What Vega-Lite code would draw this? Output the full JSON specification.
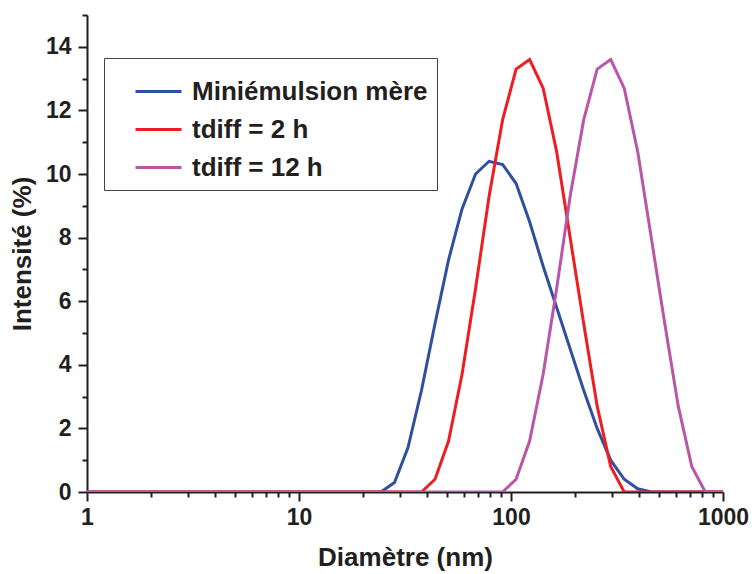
{
  "$schema": "https://vega.github.io/schema/vega-lite/v6.json",
  "width": 636,
  "height": 477,
  "autosize": {"type": "none"},
  "padding": {"left": 87, "top": 15, "right": 31, "bottom": 82},
  "background": "white",
  "config": {
    "view": {"stroke": null},
    "font": "Liberation Sans",
    "axis": {
      "grid": false,
      "domainColor": "#231F20",
      "domainWidth": 2,
      "tickColor": "#231F20",
      "tickWidth": 2,
      "labelFont": "Liberation Sans",
      "labelFontSize": 23,
      "labelFontWeight": "bold",
      "labelColor": "#231F20",
      "titleFont": "Liberation Sans",
      "titleFontSize": 26,
      "titleFontWeight": "bold",
      "titleColor": "#231F20",
      "labelOverlap": false,
      "labelFlush": false
    }
  },
  "data": {
    "values": [
      {"d": 0.9649, "v": 0, "s": "Miniémulsion mère"},
      {"d": 1.117, "v": 0, "s": "Miniémulsion mère"},
      {"d": 1.294, "v": 0, "s": "Miniémulsion mère"},
      {"d": 1.499, "v": 0, "s": "Miniémulsion mère"},
      {"d": 1.736, "v": 0, "s": "Miniémulsion mère"},
      {"d": 2.01, "v": 0, "s": "Miniémulsion mère"},
      {"d": 2.328, "v": 0, "s": "Miniémulsion mère"},
      {"d": 2.696, "v": 0, "s": "Miniémulsion mère"},
      {"d": 3.122, "v": 0, "s": "Miniémulsion mère"},
      {"d": 3.615, "v": 0, "s": "Miniémulsion mère"},
      {"d": 4.187, "v": 0, "s": "Miniémulsion mère"},
      {"d": 4.849, "v": 0, "s": "Miniémulsion mère"},
      {"d": 5.615, "v": 0, "s": "Miniémulsion mère"},
      {"d": 6.503, "v": 0, "s": "Miniémulsion mère"},
      {"d": 7.531, "v": 0, "s": "Miniémulsion mère"},
      {"d": 8.721, "v": 0, "s": "Miniémulsion mère"},
      {"d": 10.1, "v": 0, "s": "Miniémulsion mère"},
      {"d": 11.7, "v": 0, "s": "Miniémulsion mère"},
      {"d": 13.54, "v": 0, "s": "Miniémulsion mère"},
      {"d": 15.69, "v": 0, "s": "Miniémulsion mère"},
      {"d": 18.17, "v": 0, "s": "Miniémulsion mère"},
      {"d": 21.04, "v": 0, "s": "Miniémulsion mère"},
      {"d": 24.36, "v": 0, "s": "Miniémulsion mère"},
      {"d": 28.21, "v": 0.3, "s": "Miniémulsion mère"},
      {"d": 32.67, "v": 1.4, "s": "Miniémulsion mère"},
      {"d": 37.84, "v": 3.2, "s": "Miniémulsion mère"},
      {"d": 43.82, "v": 5.3, "s": "Miniémulsion mère"},
      {"d": 50.75, "v": 7.3, "s": "Miniémulsion mère"},
      {"d": 58.77, "v": 8.9, "s": "Miniémulsion mère"},
      {"d": 68.06, "v": 10.0, "s": "Miniémulsion mère"},
      {"d": 78.82, "v": 10.4, "s": "Miniémulsion mère"},
      {"d": 91.28, "v": 10.3, "s": "Miniémulsion mère"},
      {"d": 105.7, "v": 9.7, "s": "Miniémulsion mère"},
      {"d": 122.4, "v": 8.5, "s": "Miniémulsion mère"},
      {"d": 141.8, "v": 7.1, "s": "Miniémulsion mère"},
      {"d": 164.2, "v": 5.8, "s": "Miniémulsion mère"},
      {"d": 190.1, "v": 4.5, "s": "Miniémulsion mère"},
      {"d": 220.2, "v": 3.2, "s": "Miniémulsion mère"},
      {"d": 255, "v": 2.0, "s": "Miniémulsion mère"},
      {"d": 295.3, "v": 1.0, "s": "Miniémulsion mère"},
      {"d": 342, "v": 0.4, "s": "Miniémulsion mère"},
      {"d": 396.1, "v": 0.1, "s": "Miniémulsion mère"},
      {"d": 458.7, "v": 0, "s": "Miniémulsion mère"},
      {"d": 531.2, "v": 0, "s": "Miniémulsion mère"},
      {"d": 615.1, "v": 0, "s": "Miniémulsion mère"},
      {"d": 712.4, "v": 0, "s": "Miniémulsion mère"},
      {"d": 825, "v": 0, "s": "Miniémulsion mère"},
      {"d": 955.4, "v": 0, "s": "Miniémulsion mère"},
      {"d": 1106, "v": 0, "s": "Miniémulsion mère"},

      {"d": 0.9649, "v": 0, "s": "tdiff = 2 h"},
      {"d": 1.117, "v": 0, "s": "tdiff = 2 h"},
      {"d": 1.294, "v": 0, "s": "tdiff = 2 h"},
      {"d": 1.499, "v": 0, "s": "tdiff = 2 h"},
      {"d": 1.736, "v": 0, "s": "tdiff = 2 h"},
      {"d": 2.01, "v": 0, "s": "tdiff = 2 h"},
      {"d": 2.328, "v": 0, "s": "tdiff = 2 h"},
      {"d": 2.696, "v": 0, "s": "tdiff = 2 h"},
      {"d": 3.122, "v": 0, "s": "tdiff = 2 h"},
      {"d": 3.615, "v": 0, "s": "tdiff = 2 h"},
      {"d": 4.187, "v": 0, "s": "tdiff = 2 h"},
      {"d": 4.849, "v": 0, "s": "tdiff = 2 h"},
      {"d": 5.615, "v": 0, "s": "tdiff = 2 h"},
      {"d": 6.503, "v": 0, "s": "tdiff = 2 h"},
      {"d": 7.531, "v": 0, "s": "tdiff = 2 h"},
      {"d": 8.721, "v": 0, "s": "tdiff = 2 h"},
      {"d": 10.1, "v": 0, "s": "tdiff = 2 h"},
      {"d": 11.7, "v": 0, "s": "tdiff = 2 h"},
      {"d": 13.54, "v": 0, "s": "tdiff = 2 h"},
      {"d": 15.69, "v": 0, "s": "tdiff = 2 h"},
      {"d": 18.17, "v": 0, "s": "tdiff = 2 h"},
      {"d": 21.04, "v": 0, "s": "tdiff = 2 h"},
      {"d": 24.36, "v": 0, "s": "tdiff = 2 h"},
      {"d": 28.21, "v": 0, "s": "tdiff = 2 h"},
      {"d": 32.67, "v": 0, "s": "tdiff = 2 h"},
      {"d": 37.84, "v": 0, "s": "tdiff = 2 h"},
      {"d": 43.82, "v": 0.4, "s": "tdiff = 2 h"},
      {"d": 50.75, "v": 1.6, "s": "tdiff = 2 h"},
      {"d": 58.77, "v": 3.7, "s": "tdiff = 2 h"},
      {"d": 68.06, "v": 6.4, "s": "tdiff = 2 h"},
      {"d": 78.82, "v": 9.3, "s": "tdiff = 2 h"},
      {"d": 91.28, "v": 11.7, "s": "tdiff = 2 h"},
      {"d": 105.7, "v": 13.3, "s": "tdiff = 2 h"},
      {"d": 122.4, "v": 13.6, "s": "tdiff = 2 h"},
      {"d": 141.8, "v": 12.7, "s": "tdiff = 2 h"},
      {"d": 164.2, "v": 10.7, "s": "tdiff = 2 h"},
      {"d": 190.1, "v": 8.0, "s": "tdiff = 2 h"},
      {"d": 220.2, "v": 5.3, "s": "tdiff = 2 h"},
      {"d": 255, "v": 2.7, "s": "tdiff = 2 h"},
      {"d": 295.3, "v": 0.8, "s": "tdiff = 2 h"},
      {"d": 342, "v": 0, "s": "tdiff = 2 h"},
      {"d": 396.1, "v": 0, "s": "tdiff = 2 h"},
      {"d": 458.7, "v": 0, "s": "tdiff = 2 h"},
      {"d": 531.2, "v": 0, "s": "tdiff = 2 h"},
      {"d": 615.1, "v": 0, "s": "tdiff = 2 h"},
      {"d": 712.4, "v": 0, "s": "tdiff = 2 h"},
      {"d": 825, "v": 0, "s": "tdiff = 2 h"},
      {"d": 955.4, "v": 0, "s": "tdiff = 2 h"},
      {"d": 1106, "v": 0, "s": "tdiff = 2 h"},

      {"d": 0.9649, "v": 0, "s": "tdiff = 12 h"},
      {"d": 1.117, "v": 0, "s": "tdiff = 12 h"},
      {"d": 1.294, "v": 0, "s": "tdiff = 12 h"},
      {"d": 1.499, "v": 0, "s": "tdiff = 12 h"},
      {"d": 1.736, "v": 0, "s": "tdiff = 12 h"},
      {"d": 2.01, "v": 0, "s": "tdiff = 12 h"},
      {"d": 2.328, "v": 0, "s": "tdiff = 12 h"},
      {"d": 2.696, "v": 0, "s": "tdiff = 12 h"},
      {"d": 3.122, "v": 0, "s": "tdiff = 12 h"},
      {"d": 3.615, "v": 0, "s": "tdiff = 12 h"},
      {"d": 4.187, "v": 0, "s": "tdiff = 12 h"},
      {"d": 4.849, "v": 0, "s": "tdiff = 12 h"},
      {"d": 5.615, "v": 0, "s": "tdiff = 12 h"},
      {"d": 6.503, "v": 0, "s": "tdiff = 12 h"},
      {"d": 7.531, "v": 0, "s": "tdiff = 12 h"},
      {"d": 8.721, "v": 0, "s": "tdiff = 12 h"},
      {"d": 10.1, "v": 0, "s": "tdiff = 12 h"},
      {"d": 11.7, "v": 0, "s": "tdiff = 12 h"},
      {"d": 13.54, "v": 0, "s": "tdiff = 12 h"},
      {"d": 15.69, "v": 0, "s": "tdiff = 12 h"},
      {"d": 18.17, "v": 0, "s": "tdiff = 12 h"},
      {"d": 21.04, "v": 0, "s": "tdiff = 12 h"},
      {"d": 24.36, "v": 0, "s": "tdiff = 12 h"},
      {"d": 28.21, "v": 0, "s": "tdiff = 12 h"},
      {"d": 32.67, "v": 0, "s": "tdiff = 12 h"},
      {"d": 37.84, "v": 0, "s": "tdiff = 12 h"},
      {"d": 43.82, "v": 0, "s": "tdiff = 12 h"},
      {"d": 50.75, "v": 0, "s": "tdiff = 12 h"},
      {"d": 58.77, "v": 0, "s": "tdiff = 12 h"},
      {"d": 68.06, "v": 0, "s": "tdiff = 12 h"},
      {"d": 78.82, "v": 0, "s": "tdiff = 12 h"},
      {"d": 91.28, "v": 0, "s": "tdiff = 12 h"},
      {"d": 105.7, "v": 0.4, "s": "tdiff = 12 h"},
      {"d": 122.4, "v": 1.6, "s": "tdiff = 12 h"},
      {"d": 141.8, "v": 3.7, "s": "tdiff = 12 h"},
      {"d": 164.2, "v": 6.4, "s": "tdiff = 12 h"},
      {"d": 190.1, "v": 9.3, "s": "tdiff = 12 h"},
      {"d": 220.2, "v": 11.7, "s": "tdiff = 12 h"},
      {"d": 255, "v": 13.3, "s": "tdiff = 12 h"},
      {"d": 295.3, "v": 13.6, "s": "tdiff = 12 h"},
      {"d": 342, "v": 12.7, "s": "tdiff = 12 h"},
      {"d": 396.1, "v": 10.7, "s": "tdiff = 12 h"},
      {"d": 458.7, "v": 8.0, "s": "tdiff = 12 h"},
      {"d": 531.2, "v": 5.3, "s": "tdiff = 12 h"},
      {"d": 615.1, "v": 2.7, "s": "tdiff = 12 h"},
      {"d": 712.4, "v": 0.8, "s": "tdiff = 12 h"},
      {"d": 825, "v": 0, "s": "tdiff = 12 h"},
      {"d": 955.4, "v": 0, "s": "tdiff = 12 h"},
      {"d": 1106, "v": 0, "s": "tdiff = 12 h"}
    ]
  },
  "encoding": {
    "x": {
      "field": "d",
      "type": "quantitative",
      "scale": {"type": "log", "domain": [1, 1000], "nice": false},
      "axis": {
        "title": "Diamètre (nm)",
        "values": [1, 2, 3, 4, 5, 6, 7, 8, 9, 10, 20, 30, 40, 50, 60, 70, 80, 90, 100, 200, 300, 400, 500, 600, 700, 800, 900, 1000],
        "labelExpr": "(datum.value == 1 || datum.value == 10 || datum.value == 100 || datum.value == 1000) ? format(datum.value, 'd') : ''",
        "tickSize": {"condition": {"test": "datum.value == 1 || datum.value == 10 || datum.value == 100 || datum.value == 1000", "value": 9}, "value": 5},
        "labelPadding": 5,
        "titlePadding": 15
      }
    },
    "y": {
      "field": "v",
      "type": "quantitative",
      "scale": {"domain": [0, 15], "nice": false},
      "axis": {
        "title": "Intensité (%)",
        "values": [0, 1, 2, 3, 4, 5, 6, 7, 8, 9, 10, 11, 12, 13, 14, 15],
        "labelExpr": "(datum.value % 2 == 0 && datum.value < 15) ? datum.label : ''",
        "tickSize": {"condition": {"test": "datum.value % 2 == 0 && datum.value < 15", "value": 9}, "value": 5},
        "labelPadding": 7,
        "titlePadding": 10
      }
    },
    "color": {
      "field": "s",
      "type": "nominal",
      "scale": {
        "domain": ["Miniémulsion mère", "tdiff = 2 h", "tdiff = 12 h"],
        "range": ["#2F4F9F", "#EE1D23", "#B956A8"]
      },
      "legend": {
        "orient": "none",
        "legendX": 17,
        "legendY": 43,
        "title": null,
        "direction": "vertical",
        "symbolType": "stroke",
        "symbolSize": 2116,
        "symbolStrokeWidth": 3,
        "labelFont": "Liberation Sans",
        "labelFontSize": 26,
        "labelFontWeight": "bold",
        "labelColor": "#231F20",
        "labelLimit": 500,
        "labelOffset": 9,
        "symbolOffset": 21,
        "padding": 9,
        "rowPadding": 0,
        "strokeColor": "#444444",
        "fillColor": "white"
      }
    }
  },
  "layer": [
    {
      "transform": [{"filter": "datum.s == 'Miniémulsion mère'"}],
      "mark": {"type": "line", "strokeWidth": 3, "clip": true}
    },
    {
      "transform": [{"filter": "datum.s == 'tdiff = 2 h'"}],
      "mark": {"type": "line", "strokeWidth": 3, "clip": true}
    },
    {
      "transform": [{"filter": "datum.s == 'tdiff = 12 h'"}],
      "mark": {"type": "line", "strokeWidth": 3, "clip": true}
    }
  ]
}
